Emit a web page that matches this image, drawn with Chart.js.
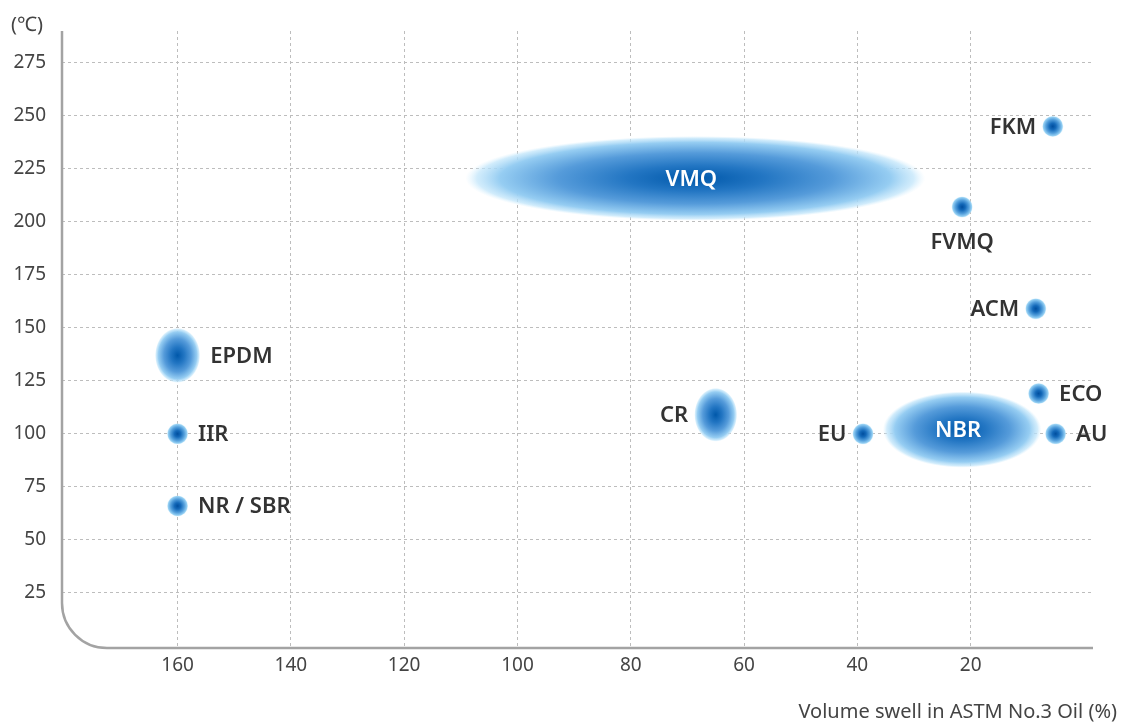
<!DOCTYPE html>
<html>
<head>
<meta charset="utf-8">
<script src="https://cdn.jsdelivr.net/npm/chart.js@4"></script>
<style>
html,body{margin:0;padding:0;background:#fff;}
#wrap{width:1132px;height:724px;}
</style>
</head>
<body>
<div id="wrap"><canvas id="c" width="1132" height="724"></canvas></div>
<script>
// ---- data ----
const names = ['FKM','FVMQ','VMQ','ACM','ECO','AU','NBR','EU','CR','EPDM','IIR','NR / SBR'];
const swell = [5.5, 21.5, 68.6, 8.5, 8, 5, 21.5, 39, 65, 160, 160, 160];
const temp = [245, 207, 220.5, 159, 119, 100, 102, 100, 109, 137, 100, 66];
const swellSpread = [0, 0, 40.6, 0, 0, 0, 14, 0, 3.8, 4, 0, 0];
const tempSpread = [0, 0, 20, 0, 0, 0, 18, 0, 12.7, 13, 0, 0];
const labelSide = ['left','below','inside','left','right','right','inside','left','left','right','right','right'];
const xTicks = [160, 140, 120, 100, 80, 60, 40, 20];
const yTicks = [25, 50, 75, 100, 125, 150, 175, 200, 225, 250, 275];
const xTitle = 'Volume swell in ASTM No.3 Oil (%)';
const yTitle = '(℃)';

const FONT = '"Noto Sans", "Noto Sans CJK KR", sans-serif';

const bubblePlugin = {
  id: 'bubbles',
  beforeDraw(chart) {
    const ctx = chart.ctx;
    ctx.save();
    ctx.fillStyle = '#fff';
    ctx.fillRect(0, 0, chart.width, chart.height);
    ctx.restore();
  },
  afterDraw(chart) {
    const ctx = chart.ctx;
    const xs = chart.scales.x, ys = chart.scales.y;
    const a = chart.chartArea;
    // axis lines with rounded corner
    ctx.save();
    ctx.strokeStyle = '#a3a3a3';
    ctx.lineWidth = 2.5;
    const R = 45;
    ctx.beginPath();
    ctx.moveTo(a.left, a.top);
    ctx.lineTo(a.left, a.bottom - R);
    ctx.arcTo(a.left, a.bottom, a.left + R, a.bottom, R);
    ctx.lineTo(a.right, a.bottom);
    ctx.stroke();
    ctx.restore();

    const meta = chart.getDatasetMeta(0);
    names.forEach((n, i) => {
      const pt = meta.data[i];
      const cx = pt.x, cy = pt.y;
      let rx = Math.abs(xs.getPixelForValue(swell[i] + swellSpread[i]) - cx);
      let ry = Math.abs(ys.getPixelForValue(temp[i] + tempSpread[i]) - cy);
      const small = rx < 1;
      if (small) { rx = 10.5; ry = 10.5; }
      ctx.save();
      ctx.translate(cx, cy);
      ctx.scale(rx, ry);
      const g = ctx.createRadialGradient(0, 0, 0, 0, 0, 1);
      if (small) {
        g.addColorStop(0, 'rgb(0,78,158)');
        g.addColorStop(0.3, 'rgb(20,105,185)');
        g.addColorStop(0.65, 'rgb(85,160,220)');
        g.addColorStop(0.9, 'rgb(150,208,243)');
        g.addColorStop(1, 'rgba(185,228,250,0.4)');
      } else {
        g.addColorStop(0, 'rgb(0,88,170)');
        g.addColorStop(0.3, 'rgb(35,118,195)');
        g.addColorStop(0.6, 'rgb(85,155,218)');
        g.addColorStop(0.85, 'rgb(150,205,242)');
        g.addColorStop(0.95, 'rgba(190,228,250,0.7)');
        g.addColorStop(1, 'rgba(215,240,253,0)');
      }
      ctx.fillStyle = g;
      ctx.beginPath();
      ctx.arc(0, 0, 1, 0, Math.PI * 2);
      ctx.fill();
      ctx.restore();

      ctx.save();
      ctx.font = '600 22px ' + FONT;
      ctx.textBaseline = 'middle';
      const side = labelSide[i];
      if (side === 'inside') {
        ctx.fillStyle = '#fff';
        ctx.textAlign = 'center';
        ctx.fillText(n, cx - 4, cy + 1);
      } else {
        ctx.fillStyle = '#333';
        if (side === 'left') { ctx.textAlign = 'right'; ctx.fillText(n, cx - rx - 6, cy + 1); }
        else if (side === 'right') { ctx.textAlign = 'left'; ctx.fillText(n, cx + rx + 10, cy + 1); }
        else { ctx.textAlign = 'center'; ctx.fillText(n, cx, cy + 36); }
      }
      ctx.restore();
    });

    // titles
    ctx.save();
    ctx.fillStyle = '#444';
    ctx.font = '20px ' + FONT;
    ctx.textBaseline = 'middle';
    ctx.textAlign = 'right';
    ctx.fillText(xTitle, 1117, 712);
    ctx.textAlign = 'left';
    ctx.fillText(yTitle, 11, 25);
    ctx.restore();
  }
};

const chart = new Chart(document.getElementById('c'), {
  type: 'scatter',
  data: {
    datasets: [{
      data: names.map((n, i) => ({x: swell[i], y: temp[i]})),
      pointRadius: 0,
      pointHoverRadius: 0
    }]
  },
  options: {
    responsive: false,
    animation: false,
    events: [],
    layout: {padding: {left: 0, top: 31, right: 39, bottom: 0}},
    plugins: {legend: {display: false}, tooltip: {enabled: false}},
    scales: {
      x: {
        type: 'linear',
        reverse: true,
        min: -1.6,
        max: 180.4,
        afterBuildTicks: s => { s.ticks = xTicks.map(v => ({value: v})); },
        afterFit: s => { s.height = 76; },
        border: {display: false, dash: [3, 3]},
        grid: {color: '#bdbdbd', lineWidth: 1, drawTicks: false},
        ticks: {font: {size: 19, family: FONT}, color: '#444', padding: 6, maxRotation: 0}
      },
      y: {
        type: 'linear',
        min: -1,
        max: 290,
        afterBuildTicks: s => { s.ticks = yTicks.map(v => ({value: v})); },
        afterFit: s => { s.width = 62; },
        border: {display: false, dash: [3, 3]},
        grid: {color: '#bdbdbd', lineWidth: 1, drawTicks: false},
        ticks: {font: {size: 19, family: FONT}, color: '#444', padding: 16}
      }
    }
  },
  plugins: [bubblePlugin]
});
</script>
</body>
</html>
